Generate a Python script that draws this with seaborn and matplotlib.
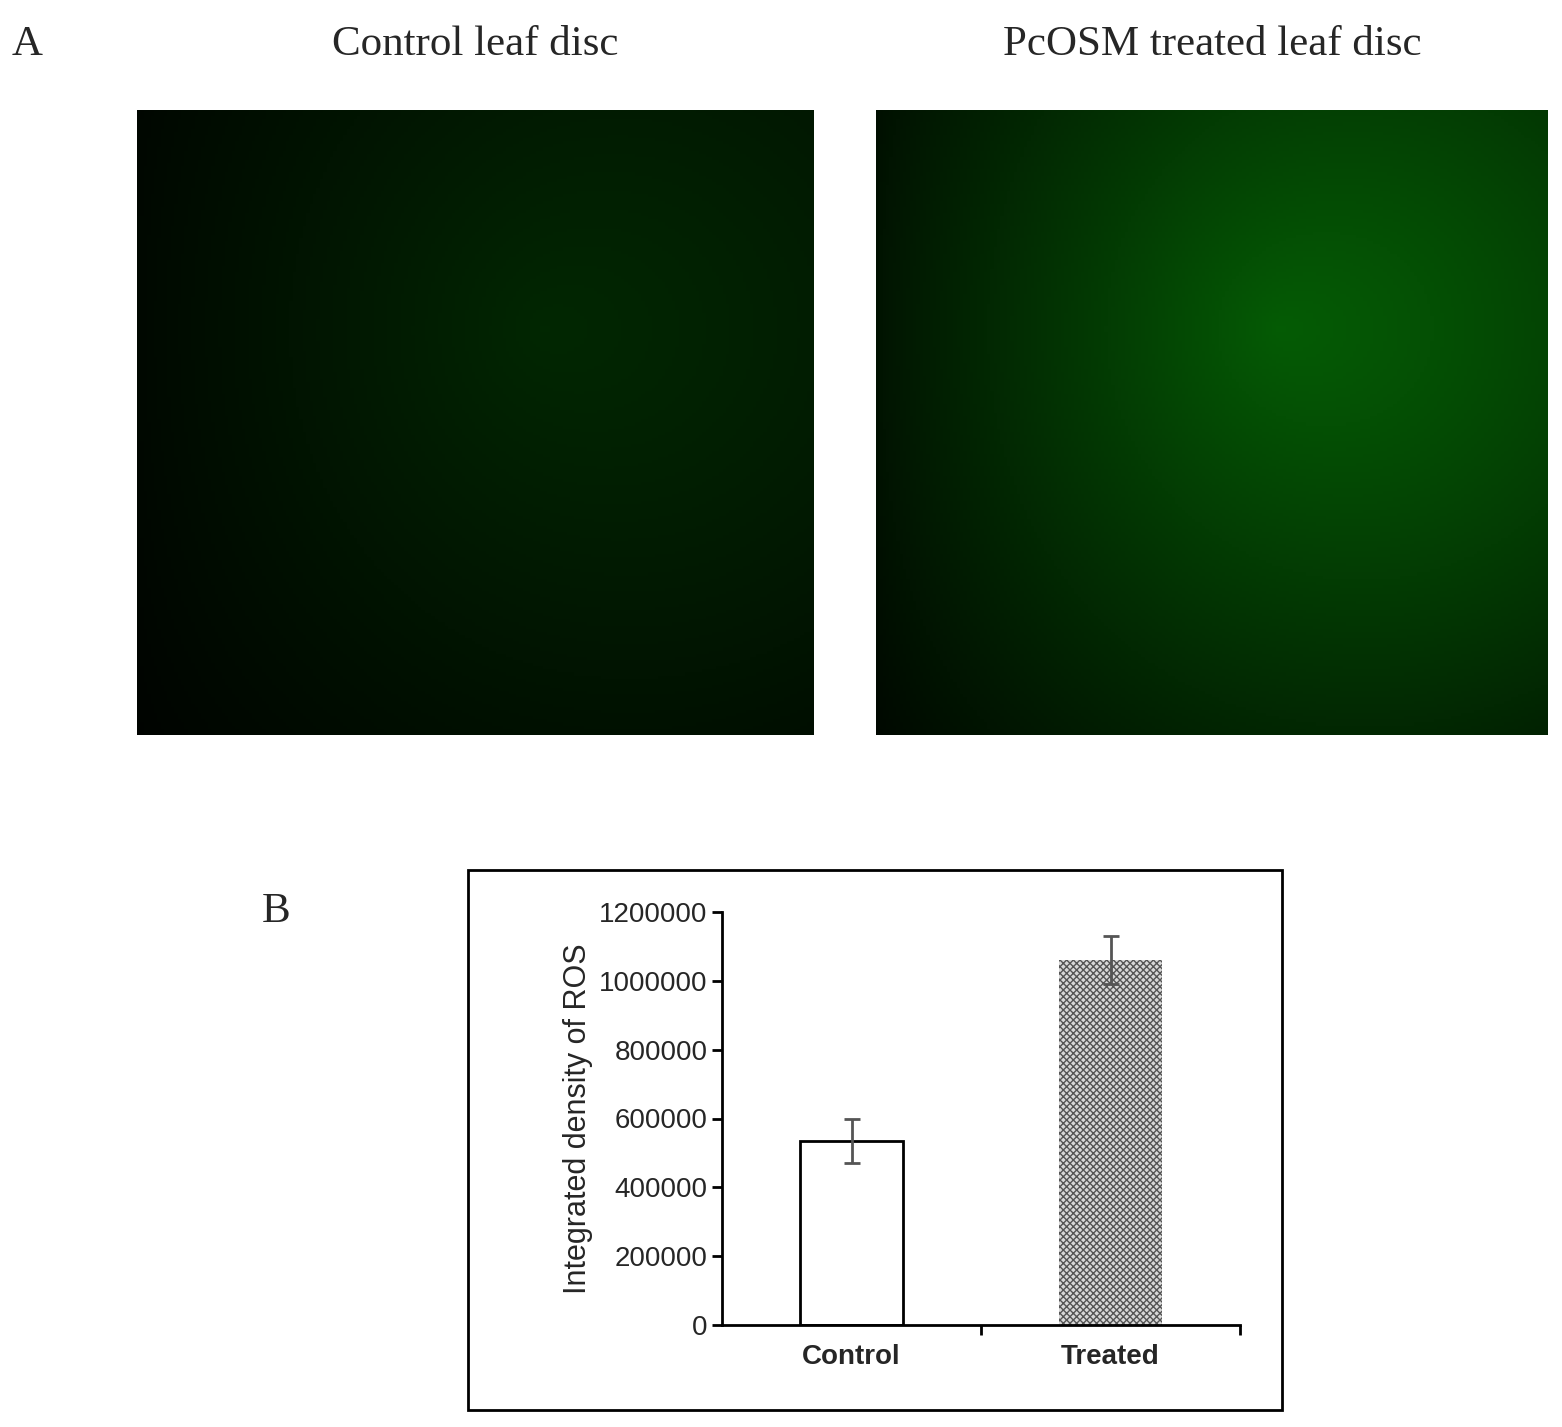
import numpy as np
import pandas as pd
import matplotlib
matplotlib.use("Agg")
import matplotlib.pyplot as plt
import seaborn as sns
from matplotlib.patches import Rectangle

sns.set_theme(style="white")
plt.rcParams['font.family'] = ['Liberation Sans', 'DejaVu Sans']

categories = ["Control", "Treated"]
values = [535000, 1060000]
errors = [65000, 70000]
panel_titles = ["Control leaf disc", "PcOSM treated leaf disc"]
yticks = [0, 200000, 400000, 600000, 800000, 1000000, 1200000]

W, H = 1562, 1427
fig = plt.figure(figsize=(W/100, H/100), dpi=100)

def fr(x0, y0, x1, y1):
    return [x0/W, 1-y1/H, (x1-x0)/W, (y1-y0)/H]

# Panel A: fluorescence image placeholders (smooth dark green fields)
yy, xx = np.mgrid[0:1:200j, 0:1:200j]
for i, (box, peak) in enumerate([((137,110,814,735), 0.18), ((876,110,1548,735), 0.42)]):
    ax = fig.add_axes(fr(*box))
    r = np.sqrt((xx-0.6)**2 + (yy-0.35)**2)
    g = peak * np.clip(1.0 - 0.9*r, 0.2, 1) * (0.35 + 0.65*xx**0.5)
    img = np.dstack([g*0.05, g, g*0.05])
    ax.imshow(np.clip(img, 0, 1), aspect='auto', extent=[0,1,0,1])
    ax.set_axis_off()
    fig.text((box[0]+box[2])/2/W, 1-45/H, panel_titles[i], ha='center', va='center',
             fontsize=31, family=['Liberation Serif', 'DejaVu Serif'])
fig.text(12/W, 1-45/H, "A", ha='left', va='center', fontsize=31, family=['Liberation Serif', 'DejaVu Serif'])
fig.text(262/W, 1-912/H, "B", ha='left', va='center', fontsize=31, family=['Liberation Serif', 'DejaVu Serif'])

# Frame around panel B
fig.patches.append(Rectangle((468/W, 1-1410/H), (1282-468)/W, (1410-870)/H,
                             transform=fig.transFigure, fill=False, edgecolor='black', lw=2))

ax = fig.add_axes(fr(722, 912, 1240, 1325))
df = pd.DataFrame({"cat": categories, "val": values})
sns.barplot(data=df, x="cat", y="val", ax=ax, width=0.4, color="white", edgecolor="black", linewidth=2)
bars = ax.patches
bars[1].set_facecolor("#d8d8d8")
bars[1].set_hatch("xxxxx")
bars[1].set_edgecolor("#555555")
bars[1].set_linewidth(0)
ax.errorbar(range(len(categories)), values, yerr=errors, fmt='none', ecolor='#555555', elinewidth=2, capsize=6, capthick=2)
ax.set_xlim(-0.5, 1.5)
ax.set_ylim(0, 1200000)
ax.set_yticks(yticks)
ax.set_yticklabels([str(t) for t in yticks], fontsize=20)
ax.set_xticks([0, 1])
ax.set_xticklabels(categories, fontsize=20, fontweight='bold')
ax.tick_params(axis='x', length=0, pad=14)
ax.set_xticks([0.5, 1.5], minor=True)
ax.tick_params(axis='x', which='minor', length=7, width=2, direction='out', color='black', bottom=True)
ax.tick_params(axis='y', length=7, width=2, direction='out', color='black', left=True)
ax.set_xlabel("")
ax.set_ylabel("Integrated density of ROS", fontsize=22)
for s in ["top", "right"]:
    ax.spines[s].set_visible(False)
for s in ["left", "bottom"]:
    ax.spines[s].set_color("black")
    ax.spines[s].set_linewidth(2)

fig.savefig("out.png", dpi=100, facecolor="white")
